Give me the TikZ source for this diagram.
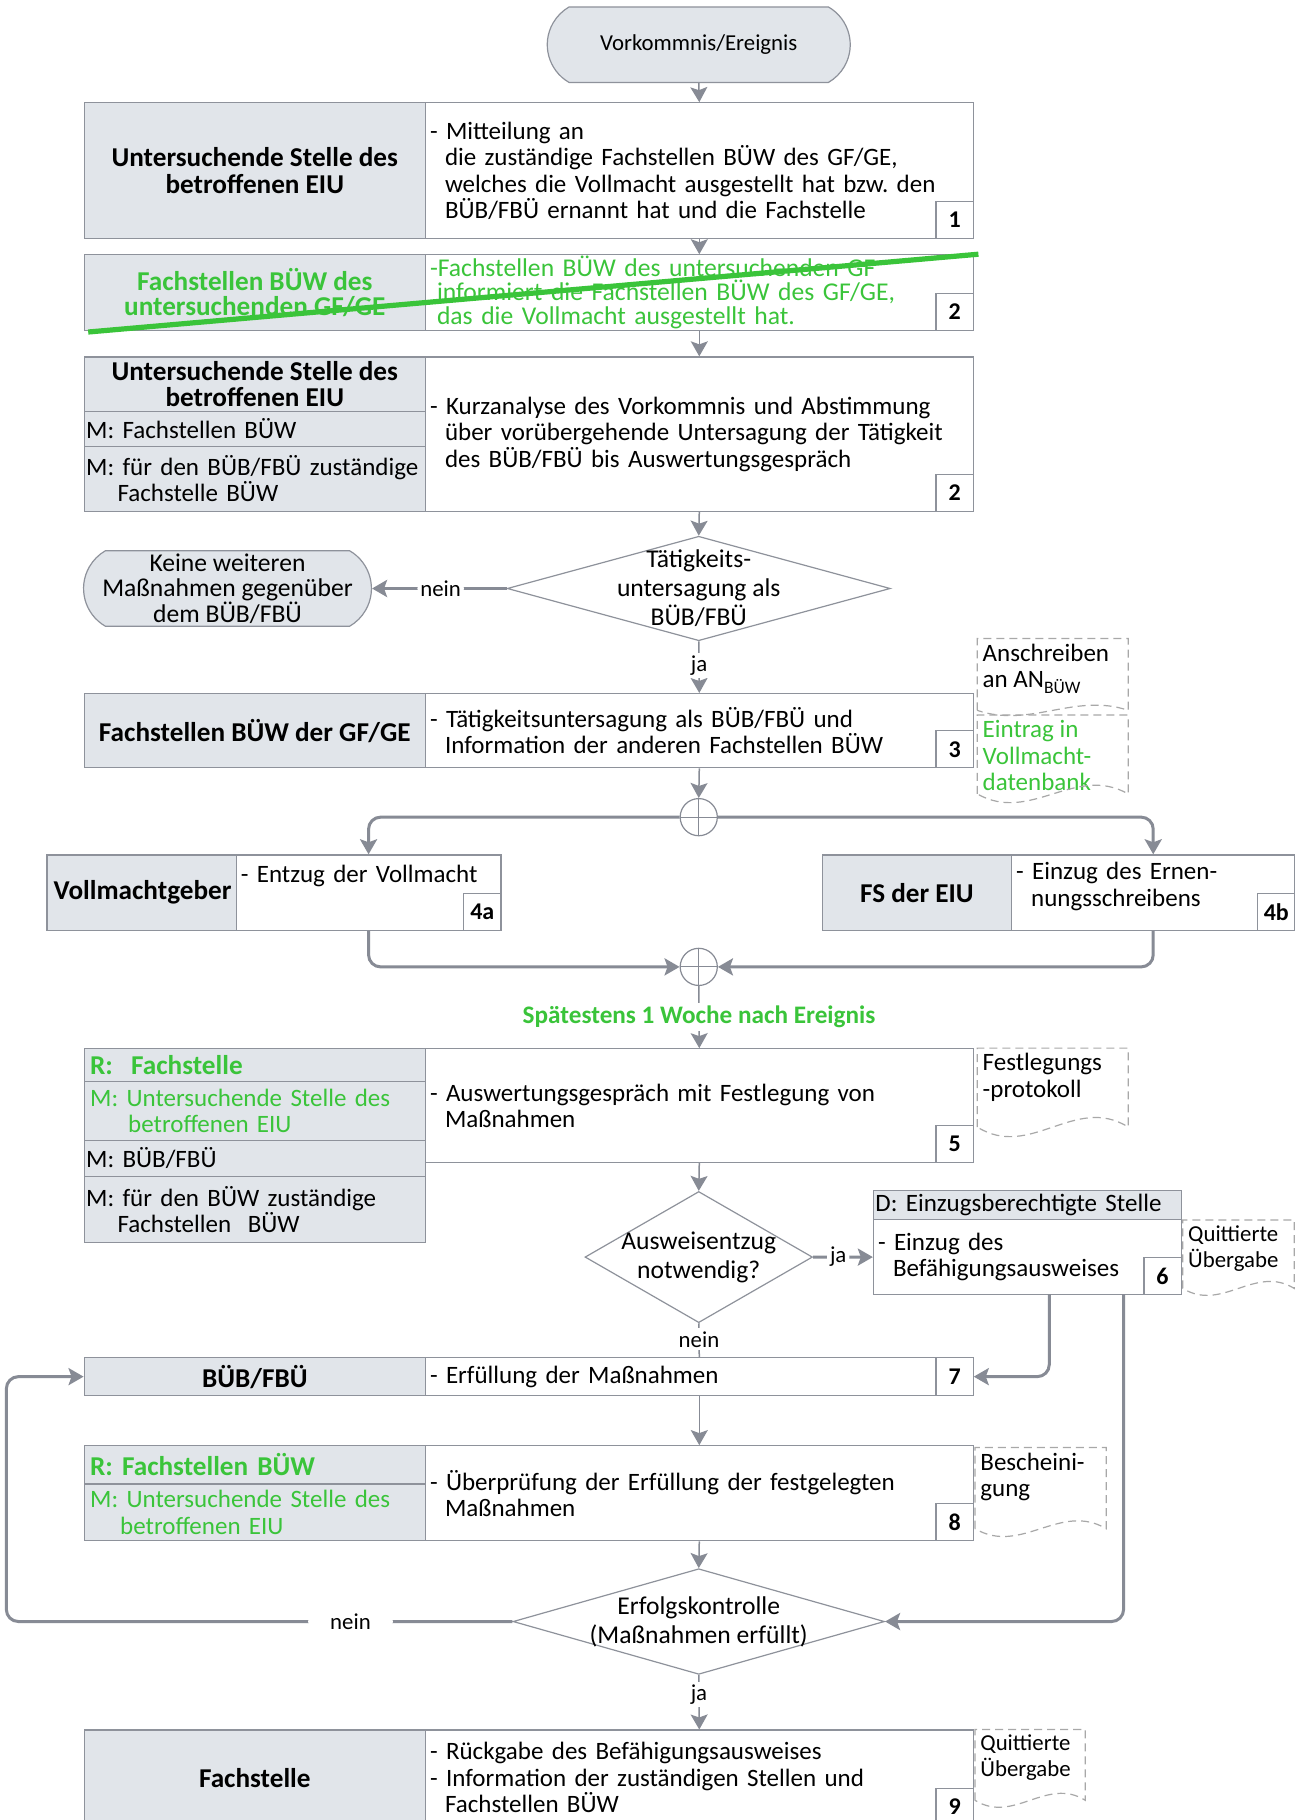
\documentclass[tikz,border=0pt]{standalone}
\usepackage{fontspec}
\setmainfont{Carlito}
\usepackage{tikz}
\usetikzlibrary{shapes, arrows.meta, calc, positioning}
\frenchspacing

\definecolor{lanefill}{HTML}{E1E5EA}
\definecolor{boxline}{HTML}{8E929B}
\definecolor{flowgray}{HTML}{878B95}
\definecolor{docgray}{HTML}{A8A8A8}
\definecolor{mark}{HTML}{3AC43A}

\newcommand\px{0.5802pt}
\newcommand\bodysize{\fontsize{12.5}{13.2}\selectfont}
\newcommand\headsize{\fontsize{13.6}{13.2}\selectfont}
\newcommand\tagsize{\fontsize{11.4}{13}\selectfont}
\newcommand\hng{\hspace*{7.5pt}}
% dashed document symbol: [opts]{name}{x}{y}{w}{h}{wave}{text}
\newcommand\docnote[8][]{%
  \node[doctext,#1] (#2) at (#3,#4) {#8};
  \draw[docline] (#3,#4+#6) -- (#3,#4) -- (#3+#5,#4) -- (#3+#5,#4+#6)
    .. controls (#3+0.65*#5,#4+#6-2.6*#7) and (#3+0.35*#5,#4+#6+2.6*#7) .. (#3,#4+#6);}

\begin{document}
\begin{tikzpicture}[x=\px, y=-\px,
  >={Stealth[length=7.5pt,width=8.5pt,inset=1.5pt]},
  flow/.style={->, draw=flowgray, line width=0.75pt},
  branch/.style={flow, line width=1.5pt, rounded corners=6pt},
  link/.style={draw=flowgray, line width=0.75pt},
  tag/.style={fill=white, inner sep=1.5pt, font=\tagsize}]
  \tikzset{
    cell/.style={draw=boxline, line width=0.6pt, anchor=north west, inner ysep=0.5pt},
    lane/.style={cell, fill=lanefill, align=center, minimum width=294*\px, font=\headsize\bfseries},
    row/.style={cell, fill=lanefill, align=left, text width=168.6pt, inner xsep=1pt, font=\bodysize},
    task/.style={cell, fill=white, align=left, text width=269.2pt, inner xsep=2.3pt, font=\bodysize},
    num/.style={cell, fill=white, anchor=south east, inner sep=0pt, minimum width=32*\px, minimum height=32*\px, font=\fontsize{12}{13}\selectfont\bfseries},
    terminal/.style={rounded rectangle, rounded rectangle arc length=120, draw=boxline, line width=0.6pt, fill=lanefill, inner sep=0pt, align=center},
    decision/.style={diamond, draw=boxline, line width=0.6pt, fill=white, inner sep=0pt},
    qtext/.style={align=center, font=\fontsize{12.8}{14.5}\selectfont},
    junction/.style={circle, draw=flowgray, line width=0.6pt, fill=white, inner sep=0pt, minimum size=32*\px,
      path picture={\draw[flowgray, line width=0.6pt] (path picture bounding box.north) -- (path picture bounding box.south)
        (path picture bounding box.west) -- (path picture bounding box.east);}},
    docline/.style={draw=docgray, line width=0.6pt, dash pattern=on 4pt off 2.5pt},
    doctext/.style={anchor=north west, align=left, inner sep=2.5pt, font=\bodysize},
    strike/.style={draw=mark, line width=2.6pt}
  }
  \fill[white, use as bounding box] (0,0) rectangle (1122,1568);

  % start
  \node[terminal, minimum width=261*\px, minimum height=65*\px, font=\fontsize{11.4}{13}\selectfont] (start) at (602,38.5) {Vorkommnis/Ereignis};

  % step 1
  \node[lane, minimum height=117*\px] (who1) at (72,88) {Untersuchende Stelle des\\betroffenen EIU};
  \node[task, minimum height=117*\px] (do1) at (366,88) {- Mitteilung an\\\hng die zuständige Fachstellen BÜW des GF/GE,\\\hng welches die Vollmacht ausgestellt hat bzw. den\\\hng BÜB/FBÜ ernannt hat und die Fachstelle};
  \node[num] (nr1) at (do1.south east) {1};

  % step 2 (struck out)
  \node[lane, text=mark, minimum height=65*\px, font=\fontsize{13.6}{12.2}\selectfont\bfseries] (who2) at (72,219) {Fachstellen BÜW des\\untersuchenden GF/GE};
  \node[task, text=mark, minimum height=65*\px, font=\fontsize{12.8}{11.9}\selectfont] (do2) at (366,219) {-Fachstellen BÜW des untersuchenden GF\\\hspace*{3.5pt}informiert die Fachstellen BÜW des GF/GE,\\\hspace*{3.5pt}das die Vollmacht ausgestellt hat.};
  \node[num] (nr2) at (do2.south east) {2};

  % step 2
  \node[lane, minimum height=47*\px] (who3) at (72,307) {Untersuchende Stelle des\\betroffenen EIU};
  \node[row, minimum height=30*\px] (m3a) at (72,354) {M: Fachstellen BÜW};
  \node[row, minimum height=56*\px] (m3b) at (72,384) {\mbox{M: für den BÜB/FBÜ zuständige}\\\hspace*{15.7pt}Fachstelle BÜW};
  \node[task, minimum height=133*\px] (do3) at (366,307) {- Kurzanalyse des Vorkommnis und Abstimmung\\\hng über vorübergehende Untersagung der Tätigkeit\\\hng des BÜB/FBÜ bis Auswertungsgespräch};
  \node[num] (nr3) at (do3.south east) {2};

  \node[decision, minimum width=330*\px, minimum height=90*\px, label={[qtext]center:Tätigkeits-\\untersagung als\\BÜB/FBÜ}] (q1) at (602,507) {};
  \node[terminal, minimum width=248*\px, minimum height=65*\px, font=\fontsize{12.8}{12.8}\selectfont] (stop) at (196,507) {Keine weiteren\\Maßnahmen gegenüber\\dem BÜB/FBÜ};

  % step 3
  \node[lane, minimum height=64*\px] (who4) at (72,597) {Fachstellen BÜW der GF/GE};
  \node[task, minimum height=64*\px] (do4) at (366,597) {- Tätigkeitsuntersagung als BÜB/FBÜ und\\\hng Information der anderen Fachstellen BÜW};
  \node[num] (nr4) at (do4.south east) {3};
  \docnote{docA}{842}{550}{130}{62}{6}{Anschreiben\\an AN\textsubscript{BÜW}}
  \docnote[text=mark]{docB}{842}{616}{130}{68}{10}{Eintrag in\\Vollmacht-\\datenbank}

  \node[junction] (j1) at (602,704) {};

  % step 4a / 4b
  \node[lane, minimum width=163*\px, minimum height=65*\px] (who5a) at (40,736) {Vollmachtgeber};
  \node[task, text width=127.7pt, minimum height=65*\px] (do5a) at (203,736) {- Entzug der Vollmacht\\[6pt]\mbox{}};
  \node[num] (nr5a) at (do5a.south east) {4a};
  \node[lane, minimum width=163*\px, minimum height=65*\px] (who5b) at (708,736) {FS der EIU};
  \node[task, text width=137pt, minimum height=65*\px] (do5b) at (871,736) {- Einzug des Ernen-\\\hng nungsschreibens\\[-5pt]\mbox{}};
  \node[num] (nr5b) at (do5b.south east) {4b};

  \node[junction] (j2) at (602,833) {};

  % step 5
  \node[row, text=mark, minimum height=28*\px, font=\headsize\bfseries] (who6) at (72,903) {\hspace*{2pt}R:\ \ Fachstelle};
  \node[row, text=mark, minimum height=51*\px] (m6a) at (72,931) {\hspace*{2pt}M: Untersuchende Stelle des\\\hspace*{21pt}betroffenen EIU};
  \node[row, minimum height=31*\px] (m6b) at (72,982) {M: BÜB/FBÜ};
  \node[row, minimum height=57*\px] (m6c) at (72,1013) {M: für den BÜW zuständige\\\hspace*{15.7pt}Fachstellen\ \ BÜW};
  \node[task, minimum height=98*\px] (do6) at (366,903) {- Auswertungsgespräch mit Festlegung von\\\hng Maßnahmen};
  \node[num] (nr6) at (do6.south east) {5};
  \docnote{docC}{842}{903}{130}{68}{11}{Festlegungs\\-protokoll}

  \node[decision, minimum width=196*\px, minimum height=113*\px, label={[qtext]center:Ausweisentzug\\notwendig?}] (q2) at (602,1083) {};

  % step 6
  \node[row, text width=151.8pt, minimum height=25*\px] (who7) at (752,1025) {D: Einzugsberechtigte Stelle};
  \node[task, text width=149.2pt, minimum height=65*\px] (do7) at (752,1050) {- Einzug des\\\hng Befähigungsausweises};
  \node[num] (nr7) at (do7.south east) {6};
  \docnote[font=\tagsize]{docD}{1019}{1051}{96}{59}{8}{Quittierte\\Übergabe}
  \coordinate (out7a) at (904,1115);
  \coordinate (out7b) at (968,1115);

  % step 7
  \node[lane, minimum height=33*\px] (who8) at (72,1169) {BÜB/FBÜ};
  \node[task, minimum height=33*\px] (do8) at (366,1169) {- Erfüllung der Maßnahmen};
  \node[num, minimum height=33*\px] (nr8) at (do8.south east) {7};

  % step 8
  \node[row, text=mark, minimum height=33*\px, font=\headsize\bfseries] (who9) at (72,1245) {\hspace*{2pt}R: Fachstellen BÜW};
  \node[row, text=mark, minimum height=49*\px] (m9) at (72,1278) {\hspace*{2pt}M: Untersuchende Stelle des\\\hspace*{17pt}betroffenen EIU};
  \node[task, minimum height=82*\px] (do9) at (366,1245) {- Überprüfung der Erfüllung der festgelegten\\\hng Maßnahmen};
  \node[num] (nr9) at (do9.south east) {8};
  \docnote{docE}{840}{1247}{113}{70}{9}{Bescheini-\\gung}

  \node[decision, minimum width=320*\px, minimum height=91*\px, label={[qtext]center:Erfolgskontrolle\\(Maßnahmen erfüllt)}] (q3) at (602,1397) {};

  % step 9
  \node[lane, minimum height=82*\px] (who10) at (72,1490) {Fachstelle};
  \node[task, minimum height=82*\px] (do10) at (366,1490) {- Rückgabe des Befähigungsausweises\\- Information der zuständigen Stellen und\\\hng Fachstellen BÜW};
  \node[num] (nr10) at (do10.south east) {9};
  \docnote[font=\tagsize]{docF}{840}{1490}{95}{61}{8}{Quittierte\\Übergabe}

  % connectors
  \draw[flow] (start.south) -- (do1.north);
  \draw[flow] (do1.south) -- (do2.north);
  \draw[flow] (do2.south) -- (do3.north);
  \draw[flow] (do3.south) -- (q1.north);
  \draw[branch] (q1.west) -- node[tag, pos=0.49] {nein} (stop.east);
  \draw[flow] (q1.south) -- node[tag, pos=0.47] {ja} (do4.north);
  \draw[flow] (do4.south) -- (j1.north);
  \draw[branch] (j1.west) -| (do5a.north);
  \draw[branch] (j1.east) -| (do5b.north);
  \draw[branch] (do5a.south) |- (j2.west);
  \draw[branch] (do5b.south) |- (j2.east);
  \draw[flow] (j2.south) -- node[tag, text=mark, font=\fontsize{12.6}{14}\selectfont\bfseries] {Spätestens 1 Woche nach Ereignis} (do6.north);
  \draw[flow] (do6.south) -- (q2.north);
  \draw[branch] (q2.east) -- node[tag, pos=0.42] {ja} (do7.west);
  \draw[link] (q2.south) -- node[tag, pos=0.48] {nein} (do8.north);
  \draw[branch] (out7a) |- (do8.east);
  \draw[branch] (out7b) |- (q3.east);
  \draw[flow] (do8.south) -- (do9.north);
  \draw[flow] (do9.south) -- (q3.north);
  \draw[branch] (q3.west) -- node[tag, pos=0.32, inner xsep=11pt] {nein} ++(-436,0) |- (who8.west);
  \draw[flow] (q3.south) -- node[tag, pos=0.36] {ja} (do10.north);

  % struck-out step
  \draw[strike] ($(who2.south west)+(4,1)$) -- ($(do2.north east)+(4,0)$);
\end{tikzpicture}
\end{document}
